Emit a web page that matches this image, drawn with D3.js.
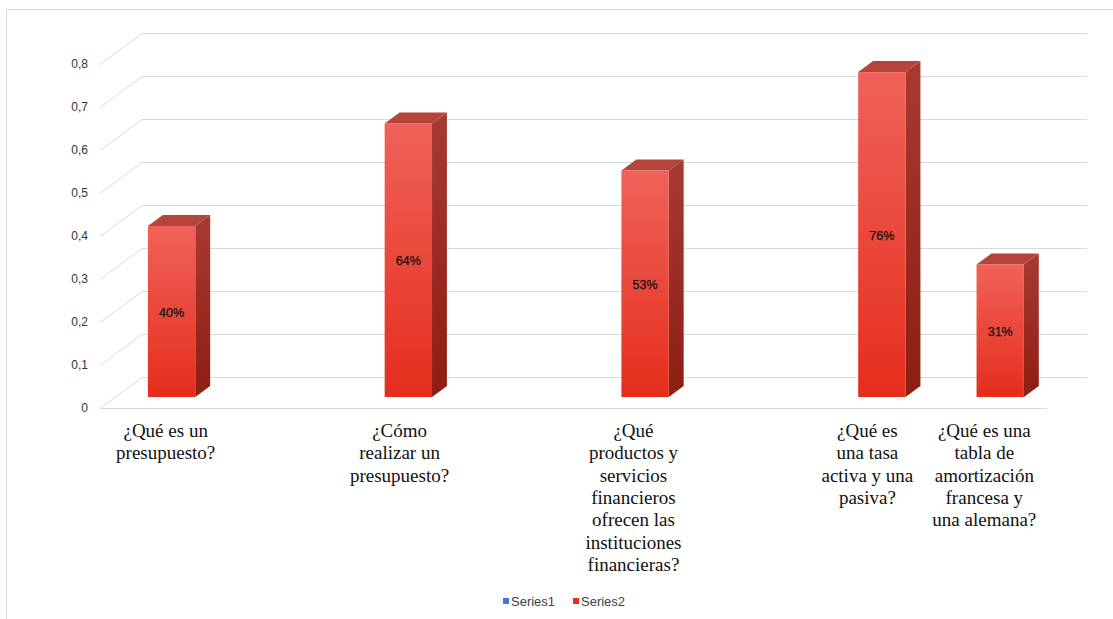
<!DOCTYPE html>
<html><head><meta charset="utf-8">
<script src="https://cdn.jsdelivr.net/npm/d3@7"></script>
<style>body{margin:0;background:#fff}svg{display:block}</style>
</head><body><svg id="c" width="1113" height="619"></svg>
<script>
const categories = [
  "¿Qué es un\npresupuesto?",
  "",
  "¿Cómo\nrealizar un\npresupuesto?",
  "",
  "¿Qué\nproductos y\nservicios\nfinancieros\nofrecen las\ninstituciones\nfinancieras?",
  "",
  "¿Qué es\nuna tasa\nactiva y una\npasiva?",
  "¿Qué es una\ntabla de\namortización\nfrancesa y\nuna alemana?"
];
const series2Values = [0.40, null, 0.64, null, 0.53, null, 0.76, 0.31];
const series2Labels = ["40%", null, "64%", null, "53%", null, "76%", "31%"];
const yTicks = [0, 0.1, 0.2, 0.3, 0.4, 0.5, 0.6, 0.7, 0.8];
const yTickLabels = ["0", "0,1", "0,2", "0,3", "0,4", "0,5", "0,6", "0,7", "0,8"];
const legendItems = ["Series1", "Series2"];
const legendColors = ["#4472e8", "#e8301f"];

const svg = d3.select("#c");
const DX = 42, DY = -31;           // depth vector of the 3D box
const f0 = 11/31, f1 = 22/31;      // bar depth placement
const x = d3.scaleBand().domain(d3.range(categories.length)).range([97.5, 1044.5]).paddingInner(0.6).paddingOuter(0.3);
const y = d3.scaleLinear().domain([0, 0.8]).range([408, 64]);
const yBar = d3.scaleLinear().domain([0, 0.8]).range([408, 66]);
const labelX = d3.scaleLinear().domain([157, 986]).range([166, 985]);

// border
svg.append("path").attr("d", "M6.5,619 V9.5 H1113").attr("fill", "none").attr("stroke", "#d9d9d9").attr("stroke-width", 1);

const defs = svg.append("defs");
const gf = defs.append("linearGradient").attr("id", "gf").attr("x1", 0).attr("y1", 0).attr("x2", 0).attr("y2", 1);
gf.append("stop").attr("offset", 0).attr("stop-color", "#f0625a");
gf.append("stop").attr("offset", 1).attr("stop-color", "#e52d1c");
const gs = defs.append("linearGradient").attr("id", "gs").attr("x1", 0).attr("y1", 0).attr("x2", 0).attr("y2", 1);
gs.append("stop").attr("offset", 0).attr("stop-color", "#a83a33");
gs.append("stop").attr("offset", 1).attr("stop-color", "#8e1d12");

// gridlines: back wall + left side wall diagonals
const grid = svg.append("g").attr("stroke", "#d9d9d9").attr("stroke-width", 1).attr("fill", "none");
yTicks.forEach(t => {
  const yy = Math.round(y(t)) + 0.5;
  grid.append("path").attr("d", `M100,${yy} L${100 + DX},${yy + DY} H1087`);
});
// floor front edge
grid.append("path").attr("d", `M100,${Math.round(y(0)) + 0.5} H1047`);

// y labels
svg.append("g").selectAll("text").data(yTicks).join("text")
  .attr("x", 88).attr("y", d => y(d) + 4).attr("text-anchor", "end")
  .attr("font-family", "Liberation Sans, Arial, sans-serif").attr("font-size", 12).attr("fill", "#333")
  .text((d, i) => yTickLabels[i]);

// bars
const bw = x.bandwidth();
const bdx = DX * (f1 - f0), bdy = DY * (f1 - f0);
const bars = svg.append("g");
series2Values.forEach((v, i) => {
  if (v == null) return;
  const x0 = x(i) + DX * f0;
  const yb = yBar(0) + DY * f0;
  const yt = yBar(v) + DY * f0;
  bars.append("path").attr("fill", "url(#gs)")
    .attr("d", `M${x0 + bw},${yt} L${x0 + bw + bdx},${yt + bdy} L${x0 + bw + bdx},${yb + bdy} L${x0 + bw},${yb} Z`);
  bars.append("path").attr("fill", "#b5443b")
    .attr("d", `M${x0},${yt} L${x0 + bw},${yt} L${x0 + bw + bdx},${yt + bdy} L${x0 + bdx},${yt + bdy} Z`);
  bars.append("rect").attr("x", x0).attr("y", yt).attr("width", bw).attr("height", yb - yt).attr("fill", "url(#gf)");
  bars.append("text").attr("x", x0 + bw / 2).attr("y", (yt + yb) / 2 + 5).attr("text-anchor", "middle")
    .attr("font-family", "Liberation Sans, Arial, sans-serif").attr("font-size", 12.5).attr("fill", "#111")
    .attr("stroke", "#111").attr("stroke-width", 0.25)
    .text(series2Labels[i]);
});

// category labels
const cl = svg.append("g").attr("font-family", "Liberation Serif, Times New Roman, serif").attr("font-size", 19).attr("fill", "#111").attr("text-anchor", "middle");
categories.forEach((c, i) => {
  if (!c) return;
  const cx = labelX(x(i) + bw / 2);
  const t = cl.append("text").attr("x", cx).attr("y", 437);
  c.split("\n").forEach((ln, k) => t.append("tspan").attr("x", cx).attr("dy", k ? 22.3 : 0).text(ln));
});

// legend
const lg = svg.append("g").attr("font-family", "Liberation Sans, Arial, sans-serif").attr("font-size", 13).attr("fill", "#404040");
const lx = [503, 573];
legendItems.forEach((s, i) => {
  lg.append("rect").attr("x", lx[i]).attr("y", 598).attr("width", 6).attr("height", 6).attr("fill", legendColors[i]);
  lg.append("text").attr("x", lx[i] + 8).attr("y", 606).text(s);
});
</script></body></html>
